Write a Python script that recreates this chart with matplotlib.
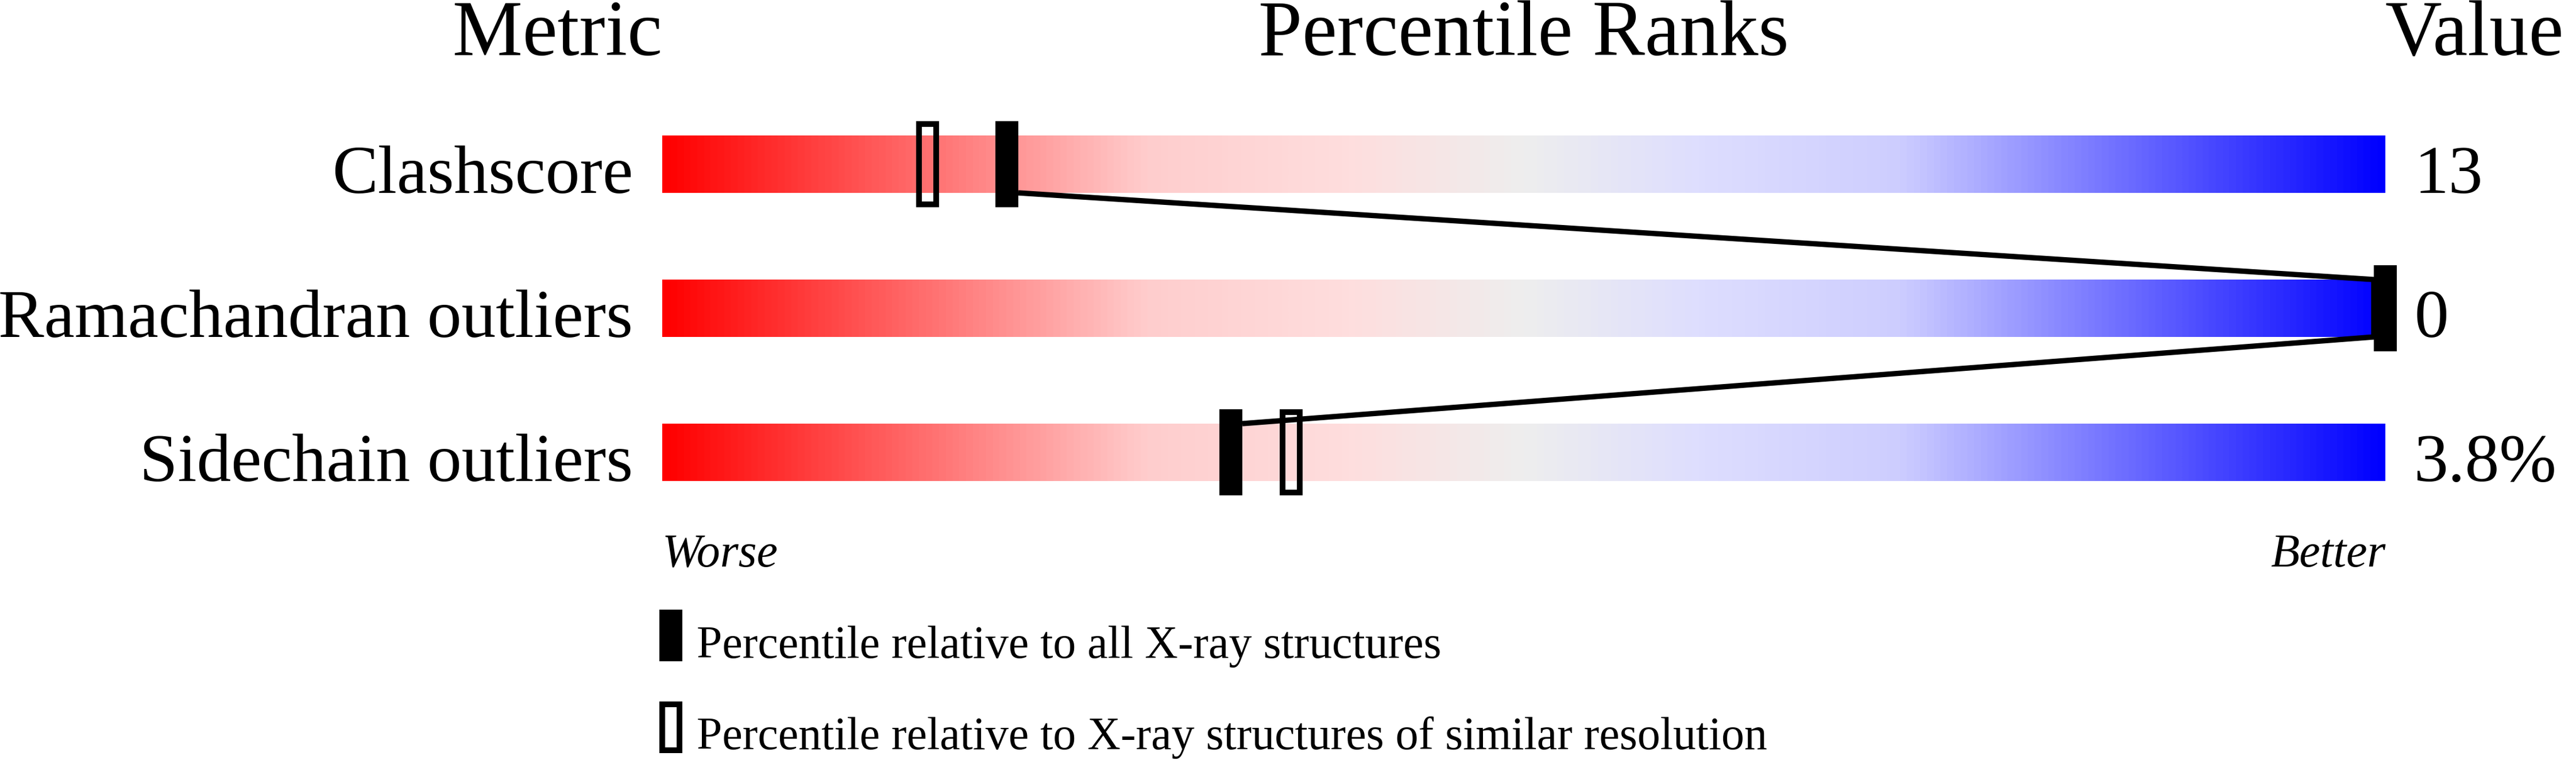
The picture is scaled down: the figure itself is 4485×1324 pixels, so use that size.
import numpy as np
import matplotlib.pyplot as plt
from matplotlib.colors import LinearSegmentedColormap
from matplotlib.patches import Rectangle

# data
metrics = ["Clashscore", "Ramachandran outliers", "Sidechain outliers"]
values = ["13", "0", "3.8%"]
pct_all = [20, 100, 33]            # filled markers
pct_similar = [15.4, None, 36.5]   # hollow markers
legend_labels = ["Percentile relative to all X-ray structures",
                 "Percentile relative to X-ray structures of similar resolution"]

# slider colours (worse -> better)
stops = [(0.00, (255, 0, 0)), (0.28, (255, 205, 205)), (0.40, (254, 222, 222)),
         (0.50, (238, 238, 238)), (0.60, (222, 222, 254)), (0.72, (205, 205, 255)),
         (1.00, (0, 0, 255))]
cmap = LinearSegmentedColormap.from_list(
    "slider", [(s, tuple(c / 255 for c in rgb)) for s, rgb in stops])

plt.rcParams['font.family'] = ['Liberation Serif', 'DejaVu Serif']

W, H = 4485, 1324
fig = plt.figure(figsize=(W / 100, H / 100), dpi=100)
ax = fig.add_axes([0, 0, 1, 1])
ax.axis("off")

# x: percentile, bar from px 1153 to 4153 ; y: row index, row 0 at px 286, 251 px per row
x0, pxu = 1153, 30.0
y0, pyu = 286, 251.0
ax.set_xlim(-x0 / pxu, (W - x0) / pxu)
ax.set_ylim((H - y0) / pyu, -y0 / pyu)

def py(p):
    return (p - y0) / pyu

bar_h = 100 / pyu
mk_h = 150 / pyu
mk_w = 40 / pxu

grad = np.linspace(0, 1, 600).reshape(1, -1)
for i, name in enumerate(metrics):
    ax.imshow(grad, cmap=cmap, aspect="auto", interpolation="bilinear",
              extent=[0, 100, i + bar_h / 2, i - bar_h / 2], zorder=1)
    ax.text(-51 / pxu, i + bar_h / 2, name, ha="right", va="baseline", fontsize=86)
    ax.text(100 + 50 / pxu, i + bar_h / 2, values[i], ha="left", va="baseline", fontsize=86)

# connecting line between filled markers
line_x, line_y = [], []
for i, p in enumerate(pct_all):
    left, right = p - mk_w / 2, p + mk_w / 2
    top, bot = i - bar_h / 2, i + bar_h / 2
    if i == 0:
        line_x += [right]; line_y += [bot]
    elif i == len(pct_all) - 1:
        line_x += [right]; line_y += [top]
    else:
        line_x += [left, left]; line_y += [top, bot]
ax.plot(line_x, line_y, color="black", lw=6.7, solid_capstyle="butt", zorder=3)

for i, p in enumerate(pct_all):
    ax.add_patch(Rectangle((p - mk_w / 2, i - mk_h / 2), mk_w, mk_h,
                           facecolor="black", edgecolor="none", zorder=4))
for i, p in enumerate(pct_similar):
    if p is None:
        continue
    bw = 10 / pxu
    ax.add_patch(Rectangle((p - mk_w / 2 + bw / 2, i - mk_h / 2 + 10 / pyu / 2),
                           mk_w - bw, mk_h - 10 / pyu, facecolor="none",
                           edgecolor="black", lw=7.2, zorder=4))

# headers
ax.text(0, py(96), "Metric", ha="right", va="baseline", fontsize=98.6)
ax.text(50, py(96), "Percentile Ranks", ha="center", va="baseline", fontsize=98.6)
ax.text(100, py(96), "Value", ha="left", va="baseline", fontsize=98.6)

ax.text(0, py(987), "Worse", ha="left", va="baseline", fontsize=59, style="italic")
ax.text(100, py(987), "Better", ha="right", va="baseline", fontsize=59, style="italic")

# legend
lg_h = 90 / pyu
for k, (cy, base) in enumerate([(1106.5, 1146), (1266.5, 1305)]):
    if k == 0:
        ax.add_patch(Rectangle((-5 / pxu, py(cy) - lg_h / 2), mk_w, lg_h,
                               facecolor="black", edgecolor="none"))
    else:
        ax.add_patch(Rectangle((-5 / pxu + 5 / pxu, py(cy) - lg_h / 2 + 5 / pyu),
                               mk_w - 10 / pxu, lg_h - 10 / pyu, facecolor="none",
                               edgecolor="black", lw=7.2))
    ax.text(60 / pxu, py(base), legend_labels[k], ha="left", va="baseline", fontsize=57.5)

fig.savefig("out.png", dpi=100)
